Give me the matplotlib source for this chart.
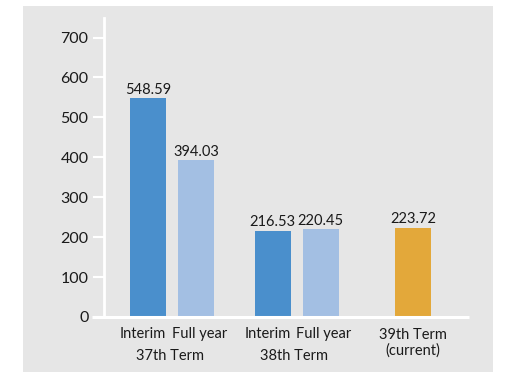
import matplotlib
matplotlib.use("Agg")
from matplotlib import pyplot as plt
from matplotlib.patches import Rectangle

plt.rcParams['font.family'] = ['Lato', 'DejaVu Sans']

# dividend per share by term
bar_labels = ['Interim', 'Full year', 'Interim', 'Full year', '39th Term\n(current)']
values = [548.59, 394.03, 216.53, 220.45, 223.72]
group_labels = ['37th Term', '38th Term']
colors = ['#4a8fcc', '#a3bfe3', '#4a8fcc', '#a3bfe3', '#e3a83a']
positions = [0, 1, 2.6, 3.6, 5.52]
yticks = [0, 100, 200, 300, 400, 500, 600, 700]

W, H = 509, 372
fig = plt.figure(figsize=(W / 100, H / 100), dpi=100)
fig.patch.set_facecolor('white')

# grey backdrop panel
fig.patches.append(Rectangle((23 / W, 0), (493 - 23) / W, (372 - 6) / H,
                             transform=fig.transFigure, facecolor='#e6e6e6',
                             edgecolor='none', zorder=-5))

ax = fig.add_axes([103.7 / W, 1 - 317 / H, (469 - 103.7) / W, (317 - 18) / H])
ax.set_facecolor('none')

ax.bar(positions, values, width=0.75, color=colors, zorder=2)
for x, v in zip(positions, values):
    ax.text(x, v + 3, f'{v:.2f}', ha='center', va='bottom', fontsize=10.5,
            color='#1a1a1a')

ax.set_xlim(-0.923, 6.69)
ax.set_ylim(0, 749)
ax.set_yticks(yticks)
ax.tick_params(axis='y', colors='white', length=8, width=1.5, pad=3,
               labelcolor='#1a1a1a', labelsize=11.5)
ax.set_xticks([])

for s in ['top', 'right', 'bottom']:
    ax.spines[s].set_visible(False)
ax.spines['left'].set_color('white')
ax.spines['left'].set_linewidth(2)

# baseline extends left under the tick marks
ax.plot([-1.167, 6.69], [0, 0], color='white', lw=2.2, clip_on=False,
        zorder=3, solid_capstyle='butt')

# category labels under bars; the pair labels are nudged apart a little
nudge = [-0.11, 0.07, -0.11, 0.06, 0]
xt = ax.get_xaxis_transform()
for x, dx, lab in zip(positions, nudge, bar_labels):
    if '\n' in lab:
        ax.text(x + dx, -0.036, lab, transform=xt, ha='center', va='top',
                fontsize=10.5, color='#1a1a1a', linespacing=1.15)
    else:
        ax.text(x + dx, -0.033, lab, transform=xt, ha='center', va='top',
                fontsize=10.5, color='#1a1a1a')

for i, g in enumerate(group_labels):
    xc = (positions[2 * i] + positions[2 * i + 1]) / 2 - 0.05
    ax.text(xc, -0.108, g, transform=xt, ha='center', va='top',
            fontsize=10.5, color='#1a1a1a')

plt.savefig('out.png', dpi=100)
